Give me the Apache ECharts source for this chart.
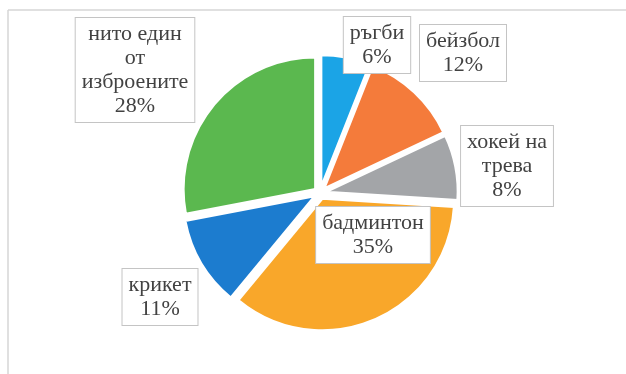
<!DOCTYPE html>
<html>
<head>
<meta charset="utf-8">
<script src="https://cdn.jsdelivr.net/npm/echarts@6/dist/echarts.min.js"></script>
<style>
  html, body { margin: 0; padding: 0; background: #fff; }
  #chart { width: 626px; height: 374px; }
</style>
</head>
<body>
<div id="chart"></div>
<script>
// Sport preferences, share of respondents (%)
const categories = ['ръгби', 'бейзбол', 'хокей на\nтрева', 'бадминтон', 'крикет', 'нито един\nот\nизброените'];
const shares = [6, 12, 8, 35, 11, 28];
const sliceColors = ['#1ba4e6', '#f47b3b', '#a3a5a8', '#f9a72a', '#1c7ccf', '#5bb84f'];

// Label box centres, by slice order
const labelCentres = [[377, 45], [463, 53], [507, 166], [373, 235], [160, 297], [135, 70]];

const chart = echarts.init(document.getElementById('chart'), null, { renderer: 'canvas' });

const data = categories.map((name, i) => ({
  name: name,
  value: shares[i],
  selected: true,
  itemStyle: { color: sliceColors[i] }
}));

// Data-label boxes (category + percentage) drawn as text graphics
const labelBoxes = categories.map((name, i) => ({
  type: 'text',
  x: labelCentres[i][0],
  y: labelCentres[i][1],
  z: 100,
  silent: true,
  style: {
    text: name + '\n' + shares[i] + '%',
    font: '22px "Liberation Serif", serif',
    lineHeight: 24,
    fill: '#424242',
    align: 'center',
    verticalAlign: 'middle',
    backgroundColor: '#ffffff',
    borderColor: '#c4c4c4',
    borderWidth: 1,
    padding: [5, 6, 3, 6]
  }
}));

chart.setOption({
  animation: false,
  backgroundColor: '#ffffff',
  graphic: [
    { type: 'line', shape: { x1: 8, y1: 10, x2: 626, y2: 10 }, style: { stroke: '#d6d6d6', lineWidth: 1.5 }, silent: true },
    { type: 'line', shape: { x1: 8, y1: 10, x2: 8, y2: 374 }, style: { stroke: '#d6d6d6', lineWidth: 1.5 }, silent: true }
  ].concat(labelBoxes),
  series: [{
    type: 'pie',
    center: [320, 193],
    radius: [0, 132],
    startAngle: 90,
    clockwise: true,
    selectedMode: 'multiple',
    selectedOffset: 6,
    itemStyle: { borderColor: '#ffffff', borderWidth: 2.5 },
    emphasis: { disabled: true },
    label: { show: false },
    labelLine: { show: false },
    data: data
  }]
});
</script>
</body>
</html>
